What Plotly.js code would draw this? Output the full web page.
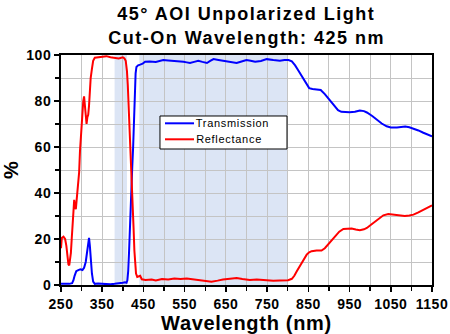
<!DOCTYPE html>
<html>
<head>
<meta charset="utf-8">
<script src="https://cdn.plot.ly/plotly-3.0.1.min.js"></script>
<style>
  html, body { margin: 0; padding: 0; background: #ffffff; }
  #chart { width: 450px; height: 334px; }
  /* slightly spaced lettering, as in the original Origin-style export */
  #chart .annotation[data-index="0"] text,
  #chart .annotation[data-index="1"] text { letter-spacing: 1.5px; }
  #chart .annotation[data-index="2"] text,
  #chart .annotation[data-index="3"] text { letter-spacing: 0.7px; }
  #chart .xtick text, #chart .ytick text { letter-spacing: 0.5px; }
  #chart .xtitle { letter-spacing: 0.7px; }
</style>
</head>
<body>
<div id="chart"></div>
<script>
// Transmission curve (wavelength in nm, value in %)
const transWl = [250,260,270,277,280,283,287,292,297,302,306,310,313,316,318,320,322,325,328,332,340,350,360,370,380,390,400,405,409,411,413,415,417,419,421,423,425,427,429,431,433,437,442,448,454,465,480,498,510,522,535,547,555,563,573,583,593,604,612,620,632,644,660,676,688,700,710,721,735,749,765,781,792,802,810,818,825,832,840,846,852,860,870,880,890,902,912,922,930,940,950,963,975,985,992,1005,1016,1028,1040,1050,1065,1076,1085,1095,1105,1117,1129,1140,1150];
const transVal = [0.5,0.4,0.5,0.8,2,4,6,6.5,6.8,6.5,7.5,10,15,20,20.5,17,11,5,1.5,0.5,0.6,0.4,0.5,0.3,0.5,0.6,1,1.2,1,2,6,14,25,38,47,52,60,72,84,92,94.8,95.5,95.8,96.2,97.1,97.2,97,97.8,97.6,97.5,97.3,97.1,96.8,96.5,97,97.5,97,96.5,97.4,98.2,97.8,97.5,97.2,96.5,97.2,97.8,97.5,97.1,97.4,98.2,97.8,97.5,97.8,97.8,97.2,95.5,93.5,91.5,89,87,85.6,85.2,85.1,84.8,83,80.5,78,76,75.3,75.1,75.1,75.3,75.9,75.6,75,73.5,71.8,70.2,69,68.5,68.5,68.7,68.9,68.6,68,67.2,66.2,65.4,64.6];

// Reflectance curve (wavelength in nm, value in %)
const reflWl = [250,252,256,260,263,266,268,270,272,274,276,278,280,282,284,286,288,290,292,294,296,298,300,302,304,306,308,310,312,314,316,318,320,322,325,328,332,340,350,360,370,380,390,400,404,407,410,412,414,416,418,420,422,424,426,428,430,432,435,438,442,446,455,470,480,495,510,525,540,555,570,585,600,615,630,643,660,676,690,708,725,740,749,765,781,801,810,816,822,828,834,840,846,852,858,870,882,890,898,906,915,925,935,945,955,965,975,985,992,1002,1012,1022,1032,1044,1058,1072,1084,1095,1105,1117,1129,1140,1150];
const reflVal = [16,20.5,21,20,17,12,9,8.5,11,14,20,27,33,37,34,33,37,41,46,49,58,64,70,77,80,82,78,72,70,73,74,78,85,90,94,97.5,98.8,99,99.3,99.5,99,98.8,98.5,99,98.5,97.5,93,87,79,70,62,55,48,38,25,15,8,5,3.5,3.8,4,2.5,2.2,2.4,2,2.6,2.4,2.8,2.6,2.8,2.5,2.3,2,1.4,1.9,2.4,2.7,3,2.6,2.2,2.4,2.1,1.9,1.9,2,2.1,2.7,4,6,7.8,9.6,11.8,13.2,14.2,14.7,15,15,16,17.6,19.4,21.2,23.2,24.4,24.5,24.6,24.1,23.8,24.2,24.8,26.2,27.7,29.2,30.3,30.9,30.6,30.2,30,30.2,30.6,31.6,32.8,33.7,34.6];

// Specified reflection and transmission bands (nm)
const bandStart = [380, 440];
const bandEnd = [410, 800];

const seriesNames = ['Transmission', 'Reflectance'];
const seriesColors = ['#0000ff', '#ff0000'];
const titleLines = ['45° AOI Unpolarized Light', 'Cut-On Wavelength: 425 nm'];
const xTitle = 'Wavelength (nm)';
const yTitle = '%';

const FONT = 'Arial, "Liberation Sans", sans-serif';
const gridColor = '#c4c4c4';

const traces = [
  { x: transWl, y: transVal, name: seriesNames[0], type: 'scatter', mode: 'lines',
    line: { color: seriesColors[0], width: 2 } },
  { x: reflWl, y: reflVal, name: seriesNames[1], type: 'scatter', mode: 'lines',
    line: { color: seriesColors[1], width: 2 } }
];

// shaded bands behind the curves
const shapes = bandStart.map((s, i) => ({
  type: 'rect', xref: 'x', yref: 'paper', x0: s, x1: bandEnd[i], y0: 0, y1: 1,
  fillcolor: '#dce5f5', line: { width: 0 }, layer: 'below'
}));

// boxed key inside the plot area
const key = { x0: 0.2668, x1: 0.6092, y0: 0.5913, y1: 0.7348,
              lineX0: 0.2803, lineX1: 0.3585, textX: 0.3693, rows: [0.703, 0.6335] };
shapes.push({ type: 'rect', xref: 'paper', yref: 'paper', x0: key.x0, x1: key.x1, y0: key.y0, y1: key.y1,
  fillcolor: '#ffffff', line: { color: '#000000', width: 1 }, layer: 'above' });
seriesNames.forEach((n, i) => {
  shapes.push({ type: 'line', xref: 'paper', yref: 'paper', x0: key.lineX0, x1: key.lineX1,
    y0: key.rows[i], y1: key.rows[i], line: { color: seriesColors[i], width: 2 }, layer: 'above' });
});

const annotations = [
  { text: titleLines[0], xref: 'paper', yref: 'paper', x: 0.5, y: 1.178, xanchor: 'center', yanchor: 'middle',
    showarrow: false, font: { family: FONT, size: 18, color: '#000000', weight: 'bold' } },
  { text: titleLines[1], xref: 'paper', yref: 'paper', x: 0.5, y: 1.074, xanchor: 'center', yanchor: 'middle',
    showarrow: false, font: { family: FONT, size: 18, color: '#000000', weight: 'bold' } }
].concat(seriesNames.map((n, i) => ({
  text: n, xref: 'paper', yref: 'paper', x: key.textX, y: key.rows[i], xanchor: 'left', yanchor: 'middle',
  showarrow: false, font: { family: FONT, size: 11, color: '#000000' }
})));

const layout = {
  width: 450, height: 334,
  margin: { l: 61, r: 18, t: 55, b: 49 },
  paper_bgcolor: '#ffffff', plot_bgcolor: '#ffffff',
  font: { family: FONT, color: '#000000' },
  showlegend: false,
  xaxis: {
    range: [250, 1150], tick0: 250, dtick: 100,
    showline: true, linecolor: '#000000', linewidth: 2, mirror: true,
    ticks: 'outside', ticklen: 5, tickwidth: 1.5, tickcolor: '#000000',
    showgrid: true, gridcolor: gridColor, gridwidth: 1,
    minor: { dtick: 50, showgrid: true, gridcolor: gridColor, gridwidth: 1, ticks: 'outside', ticklen: 4, tickcolor: '#000000' },
    zeroline: false,
    tickfont: { family: FONT, size: 14, color: '#000000', weight: 'bold' },
    title: { text: xTitle, font: { family: FONT, size: 20, color: '#000000', weight: 'bold' }, standoff: 4 }
  },
  yaxis: {
    range: [0, 100], tick0: 0, dtick: 20,
    showline: true, linecolor: '#000000', linewidth: 2, mirror: true,
    ticks: 'outside', ticklen: 5, tickwidth: 1.5, tickcolor: '#000000',
    showgrid: true, gridcolor: gridColor, gridwidth: 1,
    minor: { dtick: 10, showgrid: true, gridcolor: gridColor, gridwidth: 1, ticks: 'outside', ticklen: 4, tickcolor: '#000000' },
    zeroline: false,
    tickfont: { family: FONT, size: 14, color: '#000000', weight: 'bold' },
    title: { text: yTitle, font: { family: FONT, size: 20, color: '#000000', weight: 'bold' }, standoff: 10 }
  },
  shapes: shapes,
  annotations: annotations
};

Plotly.newPlot('chart', traces, layout, { displayModeBar: false, staticPlot: true });
</script>
</body>
</html>
